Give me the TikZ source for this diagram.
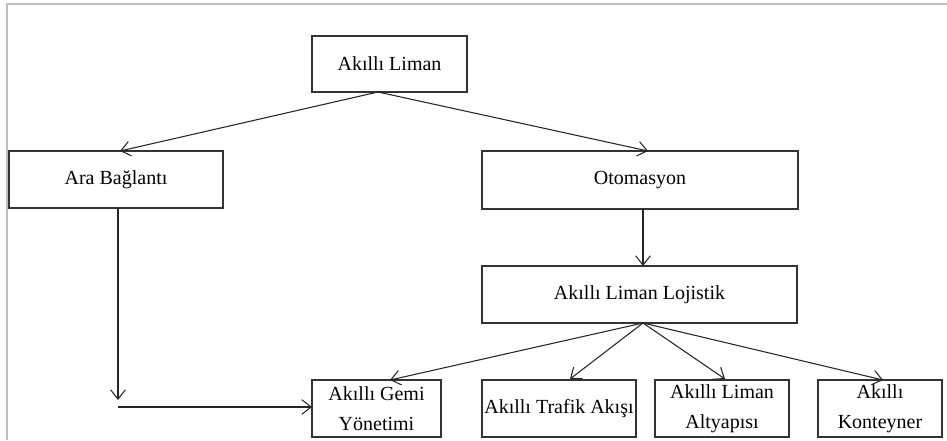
\documentclass[tikz,border=0pt]{standalone}
\usepackage{fontspec}
\setmainfont{Liberation Serif}
\usetikzlibrary{arrows.meta,calc}
\begin{document}
\begin{tikzpicture}[x=0.75pt,y=-0.75pt,
  box/.style={draw=black!80,line width=0.9pt,inner sep=0pt,outer sep=0pt,align=center,
    font=\fontsize{15}{22.5}\selectfont},
  conn/.style={draw=black!85,line width=0.8pt,-{Straight Barb[length=7pt,width=11pt,line width=0.8pt]}},
  frame/.style={draw=black!25,line width=0.9pt}]
\useasboundingbox (0,0) rectangle (947,440);
\draw[frame] (7,440) -- (7,4) -- (947,4);
\node[box,minimum width={155*0.75pt},minimum height={56*0.75pt}] (liman) at (389.5,64) {Akıllı Liman};
\node[box,minimum width={214*0.75pt},minimum height={57*0.75pt}] (ara) at (116,179.5) {Ara Bağlantı};
\node[box,minimum width={316*0.75pt},minimum height={58*0.75pt}] (oto) at (640,180) {Otomasyon};
\node[box,minimum width={315*0.75pt},minimum height={57*0.75pt}] (loj) at (639.5,294.5) {Akıllı Liman Lojistik};
\node[box,minimum width={129*0.75pt},minimum height={57*0.75pt}] (gemi) at (376.5,408.5) {Akıllı Gemi\\Yönetimi};
\node[box,minimum width={154*0.75pt},minimum height={57*0.75pt}] (trafik) at (559,408.5) {Akıllı Trafik Akışı};
\node[box,minimum width={134*0.75pt},minimum height={57*0.75pt}] (alt) at (722,408.5) {Akıllı Liman\\Altyapısı};
\node[box,minimum width={124*0.75pt},minimum height={57*0.75pt}] (kont) at (880,408.5) {Akıllı\\Konteyner};
\coordinate (ls) at ($(liman.south)+(-11.5,0)$);
\coordinate (lj) at ($(loj.south)+(3.5,0)$);
\coordinate (corner) at ($(ara.south)+(2,192)$);
\draw[conn] (ls) -- ($(ara.north)+(4,0)$);
\draw[conn] (ls) -- ($(oto.north)+(8,0)$);
\draw[conn] ($(oto.south)+(3,0)$) -- ($(loj.north)+(3.5,0)$);
\draw[conn] ($(ara.south)+(2,0)$) -- (corner);
\draw[conn] ($(corner)+(0,7)$) -- (gemi.west |- {$(corner)+(0,7)$});
\draw[conn] (lj) -- ($(gemi.north)+(13.5,0)$);
\draw[conn] (lj) -- ($(trafik.north)+(11,-1)$);
\draw[conn] (lj) -- ($(alt.north)+(3,-1)$);
\draw[conn] (lj) -- ($(kont.north)+(3,0)$);
\end{tikzpicture}
\end{document}
